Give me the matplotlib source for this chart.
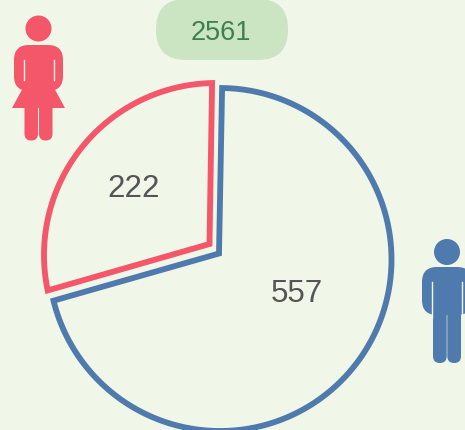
import numpy as np
import matplotlib
matplotlib.use('Agg')
import matplotlib.pyplot as plt
from matplotlib.patches import Circle, FancyBboxPatch, Polygon

total = 2561
labels = ['222', '557']
values = [222, 557]

BG = '#f0f6e8'
RED = '#f4566a'
BLUE = '#4f7aad'
colors = [RED, BLUE]
centers = [(216, 255), (220, 259.5)]
apexes = [(209.5, 244), (219, 253.5)]
radius = [172, 171.5]
label_pos = [(134, 189), (296.5, 294.5)]

plt.rcParams['font.family'] = ['Liberation Sans', 'DejaVu Sans']

fig = plt.figure(figsize=(4.65, 4.30), dpi=100, facecolor=BG)
ax = fig.add_axes([0, 0, 1, 1])
ax.set_xlim(0, 465)
ax.set_ylim(430, 0)
ax.axis('off')


def rbox(x0, y0, x1, y1, r, color):
    ax.add_patch(FancyBboxPatch((x0 + r, y0 + r), x1 - x0 - 2 * r, y1 - y0 - 2 * r,
                                boxstyle='round,pad=%f,rounding_size=%f' % (r, r),
                                fc=color, ec='none'))


# slices, small gap on both sides of each one
start = 90.3
pad = 1.0
for i in range(len(values)):
    sweep = values[i] / sum(values) * 360
    t = np.radians(np.linspace(start + pad, start + sweep - pad, 200))
    cx, cy = centers[i]
    xs = cx + radius[i] * np.cos(t)
    ys = cy - radius[i] * np.sin(t)
    pts = np.column_stack([xs, ys])
    pts = np.vstack([pts, apexes[i]])
    ax.add_patch(Polygon(pts, closed=True, fill=False, ec=colors[i], lw=4.2, joinstyle='miter'))
    ax.text(label_pos[i][0], label_pos[i][1], labels[i], fontsize=22.5, color='#555555',
            ha='center', va='center')
    start += sweep

# total badge
rbox(156, -1, 288, 60, 30, '#cbe5c3')
ax.text(221, 32.5, str(total), fontsize=19.5, color='#3f7f4f', ha='center', va='center')

# woman icon
ax.add_patch(Circle((38.5, 28.5), 13, fc=RED, ec='none'))
rbox(14, 45, 63, 91, 15, RED)
ax.add_patch(Polygon([(24, 86), (53, 86), (65, 108), (12, 108)], fc=RED, ec='none'))
rbox(24.5, 100, 38, 140.5, 6.7, RED)
rbox(39, 100, 52.5, 140.5, 6.7, RED)
ax.plot([23.5, 23.5], [60, 80], color=BG, lw=1.0)
ax.plot([53.5, 53.5], [60, 80], color=BG, lw=1.0)

# man icon
ax.add_patch(Circle((447, 252), 13, fc=BLUE, ec='none'))
rbox(422, 267, 472, 315, 15, BLUE)
rbox(433, 300, 446.7, 363, 6.8, BLUE)
rbox(447.3, 300, 461, 363, 6.8, BLUE)
ax.plot([432, 432], [282, 318], color=BG, lw=1.0)
ax.plot([462, 462], [282, 318], color=BG, lw=1.0)

fig.savefig('out.png', dpi=100, facecolor=BG)
